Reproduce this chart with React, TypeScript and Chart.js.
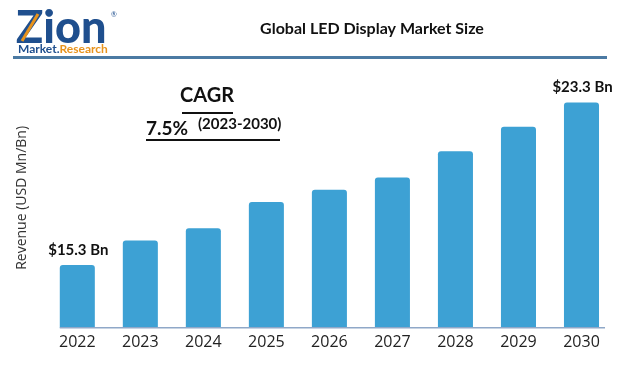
import React, { useEffect, useRef } from "react";
import { Chart, registerables } from "chart.js";

Chart.register(...registerables);

const years = ["2022", "2023", "2024", "2025", "2026", "2027", "2028", "2029", "2030"];
const revenue = [15.3, 16.5, 17.1, 18.4, 19.0, 19.6, 20.9, 22.1, 23.3];
const valueLabels = ["$15.3 Bn", "", "", "", "", "", "", "", "$23.3 Bn"];
const chartTitle = "Global LED Display Market Size";
const yAxisTitle = "Revenue (USD Mn/Bn)";
const cagrHeading = "CAGR";
const cagrValue = "7.5%";
const cagrPeriod = "(2023-2030)";
const logoMain = "Zion";
const logoSubA = "Market.";
const logoSubB = "Research";

const BAR = "#3da1d4";
const NAVY = "#1f4f8e";
const ORANGE = "#e8931c";

const decor = {
  id: "decor",
  afterDraw(chart: any) {
    const ctx = chart.ctx as CanvasRenderingContext2D;
    ctx.save();
    // logo
    ctx.fillStyle = NAVY;
    ctx.font = "900 45px Lato";
    ctx.textAlign = "left";
    ctx.textBaseline = "alphabetic";
    ctx.fillText(logoMain, 16, 43);
    ctx.strokeStyle = ORANGE;
    ctx.lineWidth = 3;
    ctx.beginPath();
    ctx.moveTo(22, 41);
    ctx.lineTo(38, 14);
    ctx.stroke();
    ctx.font = "bold 12px Lato";
    ctx.fillStyle = NAVY;
    ctx.fillText(logoSubA, 18, 53);
    const w = ctx.measureText(logoSubA).width;
    ctx.fillStyle = ORANGE;
    ctx.fillText(logoSubB, 18 + w, 53);
    ctx.fillStyle = NAVY;
    ctx.font = "7px Lato";
    ctx.fillText("®", 111, 17);

    // title
    ctx.fillStyle = "#111";
    ctx.font = "bold 16px Lato";
    ctx.textAlign = "center";
    ctx.textBaseline = "middle";
    ctx.fillText(chartTitle, 372, 29);

    // header rule
    ctx.strokeStyle = "#4b7aa3";
    ctx.lineWidth = 3;
    ctx.beginPath();
    ctx.moveTo(13, 57.5);
    ctx.lineTo(607, 57.5);
    ctx.stroke();

    // CAGR block
    ctx.fillStyle = "#111";
    ctx.font = "bold 20px Lato";
    ctx.textAlign = "center";
    ctx.fillText(cagrHeading, 207, 96);
    ctx.strokeStyle = "#111";
    ctx.lineWidth = 2;
    ctx.beginPath();
    ctx.moveTo(182, 113);
    ctx.lineTo(233, 113);
    ctx.stroke();
    ctx.textAlign = "left";
    ctx.font = "bold 19px Lato";
    ctx.fillText(cagrValue, 146, 129);
    ctx.font = "bold 15px Lato";
    ctx.fillText(cagrPeriod, 198, 124);
    ctx.beginPath();
    ctx.moveTo(146, 140);
    ctx.lineTo(280, 140);
    ctx.stroke();

    // baseline
    const meta = chart.getDatasetMeta(0);
    const first = meta.data[0];
    const last = meta.data[meta.data.length - 1];
    const yb = chart.scales.y.getPixelForValue(chart.scales.y.min);
    ctx.strokeStyle = "#8fa8c8";
    ctx.lineWidth = 1.5;
    ctx.beginPath();
    ctx.moveTo(first.x - first.width / 2, yb);
    ctx.lineTo(last.x + last.width / 2 + 6, yb);
    ctx.stroke();

    // value labels
    ctx.fillStyle = "#111";
    ctx.font = "bold 15px Lato";
    ctx.textAlign = "center";
    ctx.textBaseline = "middle";
    meta.data.forEach((bar: any, i: number) => {
      if (valueLabels[i]) ctx.fillText(valueLabels[i], bar.x + 1, bar.y - 15);
    });
    ctx.restore();
  },
};

export default function App() {
  const ref = useRef<HTMLCanvasElement | null>(null);
  useEffect(() => {
    document.body.style.margin = "0";
    document.body.style.background = "#fff";
    const chart = new Chart(ref.current!, {
      type: "bar",
      data: {
        labels: years,
        datasets: [
          {
            data: revenue,
            backgroundColor: BAR,
            borderRadius: 3,
            borderSkipped: "bottom",
            categoryPercentage: 1,
            barPercentage: 0.556,
          },
        ],
      },
      options: {
        animation: false,
        responsive: false,
        devicePixelRatio: 1,
        layout: { padding: { top: 68, left: 11, right: 4, bottom: 9 } },
        plugins: { legend: { display: false }, tooltip: { enabled: false } },
        scales: {
          x: {
            grid: { display: false, drawTicks: false },
            border: { display: false },
            ticks: { color: "#222", font: { family: "Open Sans", size: 16 }, padding: 5 },
          },
          y: {
            min: 12.2,
            max: 25,
            grid: { display: false, drawTicks: false },
            border: { display: false },
            ticks: { display: false },
            title: {
              display: true,
              text: yAxisTitle,
              color: "#333",
              font: { family: "Open Sans", size: 14 },
              padding: { top: 3, bottom: 15 },
            },
          },
        },
      },
      plugins: [decor],
    });
    return () => chart.destroy();
  }, []);
  return <canvas ref={ref} width={617} height={366} style={{ display: "block", width: 617, height: 366 }} />;
}
